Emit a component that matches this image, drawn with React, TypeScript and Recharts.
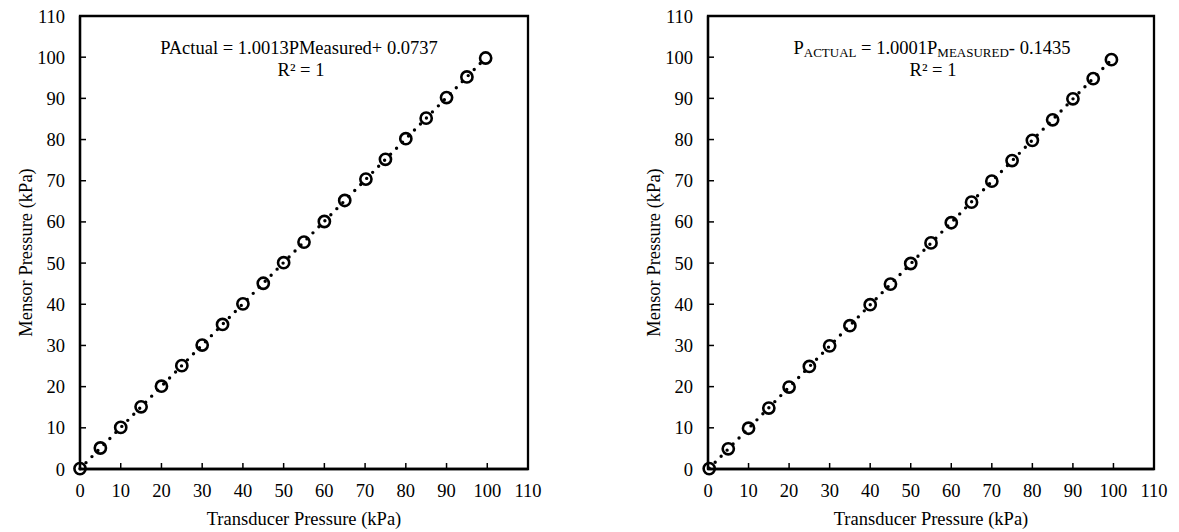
import { ScatterChart, Scatter, XAxis, YAxis, ReferenceArea } from "recharts";

// tick labels shared by both panels
const axisTicks = [0, 10, 20, 30, 40, 50, 60, 70, 80, 90, 100, 110];

// left panel: transducer (x) vs mensor (y)
const transducerLeft = [0, 5, 10, 15, 20, 25, 30, 35, 40, 45, 50, 55, 60, 65, 70.2, 75, 80, 85, 90, 95, 99.6];
const mensorLeft = [0.1, 5.1, 10.1, 15.1, 20.1, 25.1, 30.1, 35.1, 40.1, 45.1, 50.1, 55.1, 60.1, 65.2, 70.4, 75.2, 80.2, 85.2, 90.2, 95.2, 99.8];

// right panel
const transducerRight = [0.3, 5, 10, 15, 20, 25, 30, 35, 40, 45, 50, 55, 60, 65, 70, 75, 80, 85, 90, 95, 99.5];
const mensorRight = [0.1, 4.9, 9.9, 14.8, 19.9, 24.9, 29.9, 34.8, 39.9, 44.9, 49.9, 54.9, 59.8, 64.8, 69.9, 74.9, 79.8, 84.8, 89.9, 94.8, 99.4];

const FONT = "'Liberation Serif', 'Times New Roman', serif";
const FS = 18.5;

const toPoints = (xs: number[], ys: number[]) => xs.map((x, i) => ({ x, y: ys[i] }));

const Ring = (props: any) => (
  <circle cx={props.cx} cy={props.cy} r={5.6} fill="none" stroke="#000" strokeWidth={2.6} />
);

const YTitle = (props: any) => {
  const vb = props.viewBox || {};
  const x = vb.x + 12;
  const y = vb.y + vb.height / 2 + 10;
  return (
    <text
      x={x}
      y={y}
      transform={`rotate(-90 ${x} ${y})`}
      textAnchor="middle"
      fontFamily={FONT}
      fontSize={FS}
      fill="#000"
    >
      Mensor Pressure (kPa)
    </text>
  );
};

type PanelProps = {
  xs: number[];
  ys: number[];
  width: number;
  left: number;
  right: number;
  children?: React.ReactNode;
};

function Panel({ xs, ys, width, left, right, children }: PanelProps) {
  const tickStyle = { fill: "#000", fontSize: FS, fontFamily: FONT };
  return (
    <ScatterChart
      width={width}
      height={532}
      margin={{ top: 16, right, left, bottom: 7 }}
      style={{ fontFamily: FONT }}
    >
      <XAxis
        type="number"
        dataKey="x"
        domain={[0, 110]}
        ticks={axisTicks}
        interval={0}
        height={56}
        tickSize={-6}
        tickMargin={21}
        tick={tickStyle}
        axisLine={{ stroke: "#000", strokeWidth: 2.3 }}
        tickLine={{ stroke: "#000", strokeWidth: 1.5 }}
        label={{
          value: "Transducer Pressure (kPa)",
          position: "insideBottom",
          offset: 0,
          fill: "#000",
          fontSize: FS,
          fontFamily: FONT,
        }}
      />
      <YAxis
        type="number"
        dataKey="y"
        domain={[0, 110]}
        ticks={axisTicks}
        interval={0}
        width={60}
        tickSize={-6}
        tickMargin={21}
        tick={tickStyle}
        axisLine={{ stroke: "#000", strokeWidth: 2.3 }}
        tickLine={{ stroke: "#000", strokeWidth: 1.5 }}
        label={<YTitle />}
      />
      <ReferenceArea
        x1={0}
        x2={110}
        y1={0}
        y2={110}
        fill="none"
        stroke="#000"
        strokeWidth={2.3}
      />
      <Scatter
        data={toPoints(xs, ys)}
        fill="#000"
        shape={Ring}
        line={{ stroke: "#000", strokeWidth: 3.4, strokeDasharray: "0 8.5", strokeLinecap: "round" }}
        lineType="fitting"
        isAnimationActive={false}
      />
      {children}
    </ScatterChart>
  );
}

export default function App() {
  return (
    <div
      style={{
        position: "absolute",
        left: 0,
        top: 0,
        width: 1179,
        height: 532,
        background: "#fff",
        fontFamily: FONT,
      }}
    >
      <div style={{ position: "absolute", left: 0, top: 0 }}>
        <Panel xs={transducerLeft} ys={mensorLeft} width={590} left={20} right={62}>
          <text x={299} y={54} textAnchor="middle" fontFamily={FONT} fontSize={FS} fill="#000">
            PActual = 1.0013PMeasured+ 0.0737
          </text>
          <text x={301} y={76} textAnchor="middle" fontFamily={FONT} fontSize={FS} fill="#000">
            R² = 1
          </text>
        </Panel>
      </div>
      <div style={{ position: "absolute", left: 590, top: 0 }}>
        <Panel xs={transducerRight} ys={mensorRight} width={589} left={58} right={25}>
          <text x={342} y={54} textAnchor="middle" fontFamily={FONT} fontSize={FS} fill="#000">
            P
            <tspan fontSize={13} dy={3}>ACTUAL</tspan>
            <tspan dy={-3}> = 1.0001P</tspan>
            <tspan fontSize={13} dy={3}>MEASURED</tspan>
            <tspan dy={-3}>- 0.1435</tspan>
          </text>
          <text x={343} y={76} textAnchor="middle" fontFamily={FONT} fontSize={FS} fill="#000">
            R² = 1
          </text>
        </Panel>
      </div>
    </div>
  );
}
